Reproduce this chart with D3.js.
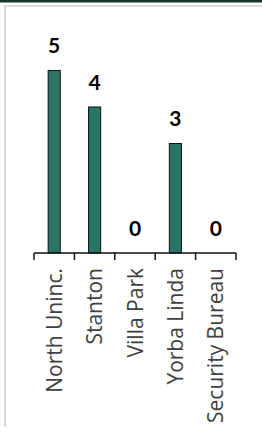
<!DOCTYPE html>
<html>
<head>
<meta charset="utf-8">
<script src="https://cdn.jsdelivr.net/npm/d3@7"></script>
<style>
  body { margin: 0; background: #fff; }
  svg { display: block; }
</style>
</head>
<body>
<svg id="chart"></svg>
<script>
// chart data
const categories = ["North Uninc.", "Stanton", "Villa Park", "Yorba Linda", "Security Bureau"];
const counts = [5, 4, 0, 3, 0];

const width = 262;
const height = 438;

const svg = d3.select("#chart")
  .attr("width", width)
  .attr("height", height);

// frame: dark strip on top, light gray panel border
svg.append("rect")
  .attr("x", 0).attr("y", 0)
  .attr("width", width).attr("height", 2.5)
  .attr("fill", "#17352e");

svg.append("path")
  .attr("d", "M5,427V6H262")
  .attr("fill", "none")
  .attr("stroke", "#d9d9d9")
  .attr("stroke-width", 2);

const x = d3.scaleBand()
  .domain(categories)
  .range([34, 236])
  .paddingInner(0.7)
  .paddingOuter(0.35);

const y = d3.scaleLinear()
  .domain([0, 5])
  .range([253, 70.5]);

// bars
svg.selectAll("rect.bar")
  .data(categories)
  .join("rect")
  .attr("class", "bar")
  .attr("x", d => x(d))
  .attr("y", (d, i) => y(counts[i]))
  .attr("width", x.bandwidth())
  .attr("height", (d, i) => y(0) - y(counts[i]))
  .attr("fill", "#297565")
  .attr("stroke", "#111")
  .attr("stroke-width", 1);

// value labels
svg.selectAll("text.val")
  .data(categories)
  .join("text")
  .attr("class", "val")
  .attr("x", d => x(d) + x.bandwidth() / 2)
  .attr("y", (d, i) => y(counts[i]) - 17.5)
  .attr("text-anchor", "middle")
  .style("font-family", "Lato, 'Open Sans', sans-serif")
  .style("font-weight", "bold")
  .style("font-size", "21px")
  .attr("fill", "#000")
  .text((d, i) => counts[i]);

// x axis with separators between categories
const gx = svg.append("g")
  .attr("transform", "translate(0,253)");

const edges = d3.range(categories.length + 1)
  .map(i => x.range()[0] + i * x.step());

gx.append("path")
  .attr("d", "M34,0H236")
  .attr("stroke", "#111")
  .attr("stroke-width", 1.5);

gx.selectAll("line.sep")
  .data(edges)
  .join("line")
  .attr("class", "sep")
  .attr("x1", d => d).attr("x2", d => d)
  .attr("y1", 0).attr("y2", 7)
  .attr("stroke", "#111")
  .attr("stroke-width", 1.5);

// rotated category labels
svg.selectAll("text.cat")
  .data(categories)
  .join("text")
  .attr("class", "cat")
  .attr("transform", d => `translate(${x(d) + x.bandwidth() / 2 + 7.5},268) rotate(-90)`)
  .attr("text-anchor", "end")
  .style("font-family", "'Open Sans', sans-serif")
  .style("font-size", "21px")
  .attr("fill", "#404040")
  .text(d => d);
</script>
</body>
</html>
